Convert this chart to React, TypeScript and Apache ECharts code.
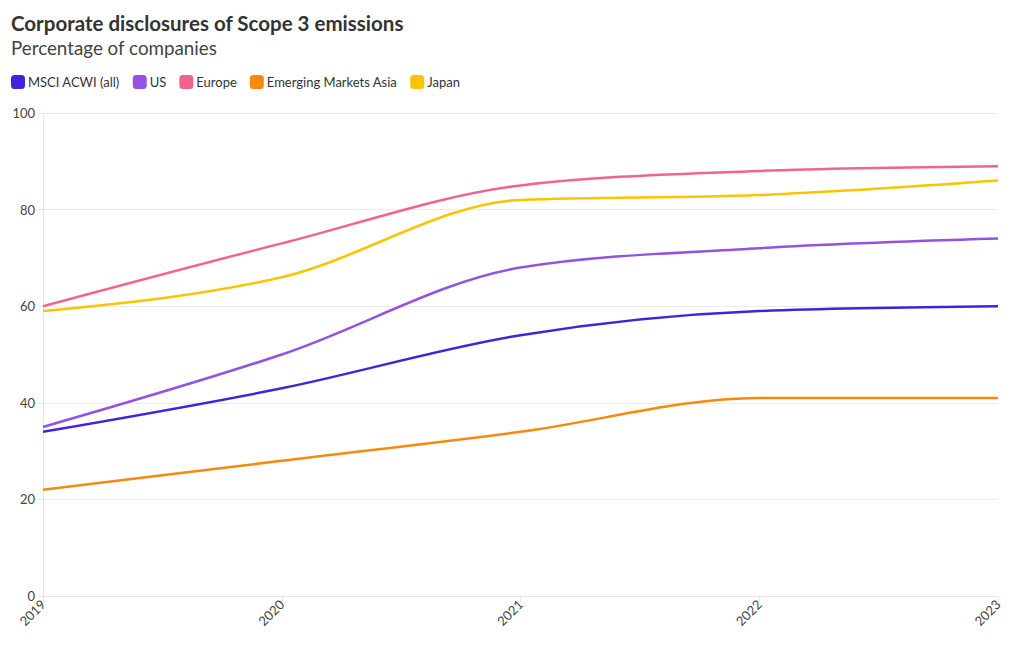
import React, { useEffect, useRef } from "react";
import * as echarts from "echarts";

const years = ["2019", "2020", "2021", "2022", "2023"];
const msci = [34, 43, 54, 59, 60];
const us = [35, 50, 68, 72, 74];
const europe = [60, 73, 85, 88, 89];
const emAsia = [22, 28, 34, 41, 41];
const japan = [59, 66, 82, 83, 86];

const seriesDefs = [
  { name: "MSCI ACWI (all)", data: msci, color: "#4024dc" },
  { name: "US", data: us, color: "#9452e0" },
  { name: "Europe", data: europe, color: "#f2648a" },
  { name: "Emerging Markets Asia", data: emAsia, color: "#f7890c" },
  { name: "Japan", data: japan, color: "#fbc400" },
];

const FONT = "Lato, 'Noto Sans', sans-serif";

function sign(x: number) {
  return x < 0 ? -1 : 1;
}

// monotone-x cubic (Fritsch–Carlson, as d3.curveMonotoneX)
function monotonePath(pts: number[][]): string {
  const n = pts.length;
  if (n < 2) return "";
  const t: number[] = new Array(n).fill(0);
  const sl: number[] = [];
  for (let i = 0; i < n - 1; i++) {
    const h = pts[i + 1][0] - pts[i][0];
    sl.push(h ? (pts[i + 1][1] - pts[i][1]) / h : 0);
  }
  for (let i = 1; i < n - 1; i++) {
    const h0 = pts[i][0] - pts[i - 1][0];
    const h1 = pts[i + 1][0] - pts[i][0];
    const s0 = sl[i - 1];
    const s1 = sl[i];
    const p = (s0 * h1 + s1 * h0) / (h0 + h1);
    t[i] = (sign(s0) + sign(s1)) * Math.min(Math.abs(s0), Math.abs(s1), 0.5 * Math.abs(p)) || 0;
  }
  if (n > 2) {
    t[0] = (3 * sl[0] - t[1]) / 2;
    t[n - 1] = (3 * sl[n - 2] - t[n - 2]) / 2;
  } else {
    t[0] = sl[0];
    t[1] = sl[0];
  }
  let d = `M${pts[0][0]},${pts[0][1]}`;
  for (let i = 0; i < n - 1; i++) {
    const [x0, y0] = pts[i];
    const [x1, y1] = pts[i + 1];
    const dx = (x1 - x0) / 3;
    d += `C${x0 + dx},${y0 + dx * t[i]},${x1 - dx},${y1 - dx * t[i + 1]},${x1},${y1}`;
  }
  return d;
}

export default function App() {
  const ref = useRef<HTMLDivElement>(null);
  useEffect(() => {
    document.body.style.margin = "0";
    const chart = echarts.init(ref.current!, null, { renderer: "svg" });
    chart.setOption({
      animation: false,
      textStyle: { fontFamily: FONT },
      title: [
        {
          text: "Corporate disclosures of Scope 3 emissions",
          left: 6,
          top: 7,
          textStyle: { fontSize: 20.5, fontWeight: "bold", color: "#333", fontFamily: FONT },
        },
        {
          text: "Percentage of companies",
          left: 6,
          top: 33,
          textStyle: { fontSize: 18.8, fontWeight: "normal", color: "#444", fontFamily: FONT },
        },
      ],
      legend: {
        left: 6,
        top: 70,
        icon: "roundRect",
        itemWidth: 14,
        itemHeight: 14,
        itemGap: 13,
        textStyle: { fontSize: 13, color: "#333", fontFamily: FONT, padding: [0, 0, 0, -2] },
        data: seriesDefs.map((s) => s.name),
      },
      grid: { left: 43, right: 22, top: 113, bottom: 54 },
      xAxis: {
        type: "category",
        data: years,
        boundaryGap: false,
        axisLine: { show: true, lineStyle: { color: "#e6e6e6" } },
        axisTick: { show: true, alignWithLabel: true, length: 6, lineStyle: { color: "#e6e6e6" } },
        axisLabel: { rotate: 45, fontSize: 13, color: "#444", margin: 6, fontFamily: FONT },
        splitLine: { show: false },
      },
      yAxis: {
        type: "value",
        min: 0,
        max: 100,
        interval: 20,
        axisLine: { show: true, lineStyle: { color: "#e6e6e6" } },
        axisTick: { show: true, length: 4, lineStyle: { color: "#e6e6e6" } },
        axisLabel: { fontSize: 13, color: "#444", margin: 8, fontFamily: FONT },
        splitLine: { show: true, lineStyle: { color: "#ececec" } },
      },
      series: seriesDefs.map((s) => ({
        name: s.name,
        type: "custom",
        data: s.data.map((v, i) => [i, v]),
        encode: { x: 0, y: 1 },
        itemStyle: { color: s.color },
        renderItem: (params: any, api: any) => {
          if (params.dataIndex !== 0) return null;
          const pts = s.data.map((v, i) => api.coord([i, v]));
          return {
            type: "path",
            shape: { pathData: monotonePath(pts) },
            style: { stroke: s.color, lineWidth: 2.5, fill: "none" },
            silent: true,
          };
        },
      })),
    });
    return () => chart.dispose();
  }, []);
  return <div ref={ref} style={{ position: "absolute", left: 0, top: 0, width: 1020, height: 650 }} />;
}
